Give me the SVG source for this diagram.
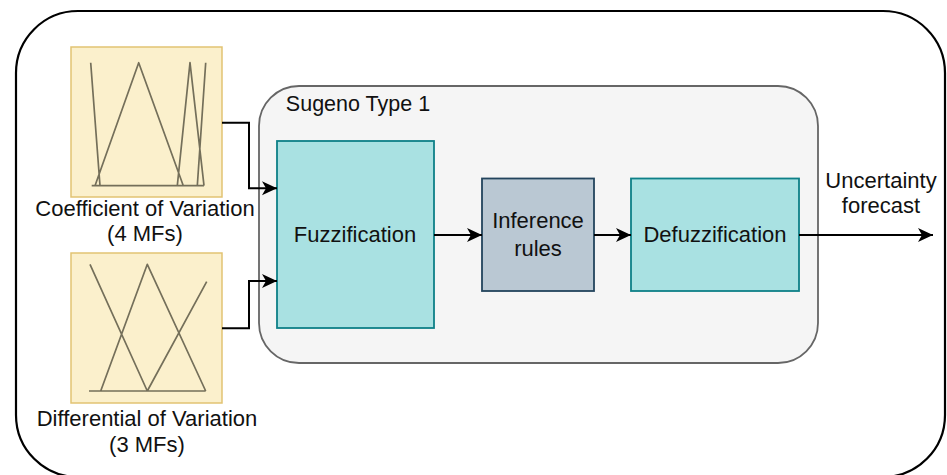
<svg xmlns="http://www.w3.org/2000/svg" width="947" height="475" viewBox="0 0 947 475">
<defs>
<style>
text{font-family:"Liberation Sans",Arial,sans-serif;font-size:22px;fill:#111;text-anchor:middle}
.mfbox{fill:#fbf0cc;stroke:#e2c373;stroke-width:1.5}
.mf{fill:none;stroke:#746f5a;stroke-width:1.7;stroke-linejoin:round}
.conn{fill:none;stroke:#000;stroke-width:2}
.teal{fill:#a9e1e2;stroke:#0e8088;stroke-width:1.8}
</style>
<marker id="arr" markerWidth="16" markerHeight="16" refX="15" refY="8" orient="auto" markerUnits="userSpaceOnUse">
<path d="M0,1 L15,8 L0,15 L4,8 z" fill="#000"/>
</marker>
</defs>
<rect width="947" height="475" fill="#fff"/>
<g id="frame">
<rect x="16" y="11" width="929" height="466" rx="62" ry="62" fill="#fff" stroke="#000" stroke-width="2.2"/>
</g>
<g id="sugeno">
<rect x="259" y="86" width="559" height="277" rx="40" ry="40" fill="#f5f5f5" stroke="#666" stroke-width="1.8"/>
<text x="358" y="111" style="font-size:21.5px">Sugeno Type 1</text>
</g>
<g id="cv">
<rect class="mfbox" x="71" y="47" width="151" height="150"/>
<path class="mf" d="M91.7,185.7 H204 M90.7,62.7 L100,185.7 M95,185.7 L138.7,62.7 L183.3,185.7 M177.3,185.7 L190,62.7 L204,185.7 M205.7,62.7 L197.3,185.7"/>
<text x="145" y="216">Coefficient of Variation</text>
<text x="145" y="241">(4 MFs)</text>
</g>
<g id="dv">
<rect class="mfbox" x="71" y="253" width="151" height="150"/>
<path class="mf" d="M89,391 H205.7 M90,264.3 L147.3,391 M100.7,391 L147.3,264.3 L205.7,391 M147.3,391 L206.7,281.7"/>
<text x="147" y="426">Differential of Variation</text>
<text x="147" y="452">(3 MFs)</text>
</g>
<g id="fuzzification">
<rect class="teal" x="277" y="141" width="157" height="187"/>
<text x="355" y="242">Fuzzification</text>
</g>
<g id="inference">
<rect x="482" y="178.5" width="112" height="112.5" fill="#bac8d3" stroke="#23445d" stroke-width="1.8"/>
<text x="538" y="228">Inference</text>
<text x="538" y="256">rules</text>
</g>
<g id="defuzzification">
<rect class="teal" x="631" y="178.5" width="168" height="112.5"/>
<text x="715" y="242">Defuzzification</text>
</g>
<g id="output-label">
<text x="881" y="188">Uncertainty</text>
<text x="881" y="213">forecast</text>
</g>
<g id="connectors">
<path class="conn" d="M222,122.7 H249 V188.3 H277" marker-end="url(#arr)"/>
<path class="conn" d="M222,328.3 H249 V281 H277" marker-end="url(#arr)"/>
<path class="conn" d="M434,235 H482" marker-end="url(#arr)"/>
<path class="conn" d="M594,235 H631" marker-end="url(#arr)"/>
<path class="conn" d="M799,235 H933" marker-end="url(#arr)"/>
</g>
</svg>
